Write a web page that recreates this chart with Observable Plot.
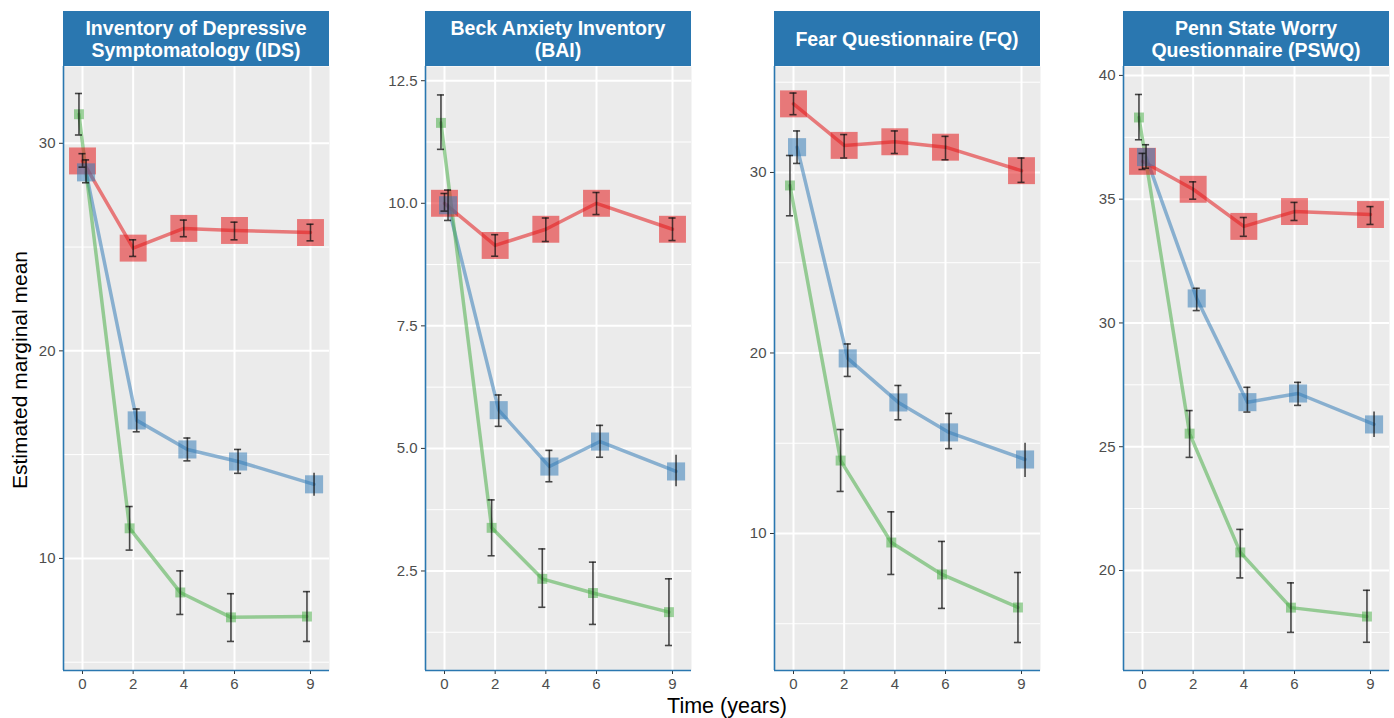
<!DOCTYPE html>
<html><head><meta charset="utf-8">
<script src="https://cdn.jsdelivr.net/npm/d3@7"></script>
<script src="https://cdn.jsdelivr.net/npm/@observablehq/plot@0.6"></script>
<style>
body{margin:0;background:#fff;font-family:"Liberation Sans",Arial,Helvetica,sans-serif;}
#chart{position:relative;width:1394px;height:718px;overflow:hidden;}
.hdr{position:absolute;top:11px;height:55px;width:266px;background:#2A77B0;color:#fff;font-weight:bold;font-size:19.5px;line-height:22px;display:flex;align-items:center;justify-content:center;text-align:center;}
.panel{position:absolute;top:66px;}
.ylab{position:absolute;left:20px;top:370px;transform:translate(-50%,-50%) rotate(-90deg);font-size:21px;white-space:nowrap;color:#000;}
.xlab{position:absolute;left:727px;top:706px;transform:translate(-50%,-50%);font-size:21.5px;white-space:nowrap;color:#000;}
</style></head><body><div id="chart"></div>
<script>
// ---- data ----
const times = [0, 2, 4, 6, 9];
const groups = ["Class 1", "Class 2", "Class 3"]; // red, blue, green
const measures = ["IDS", "BAI", "FQ", "PSWQ"];
const titles = [
  "Inventory of Depressive<br>Symptomatology (IDS)",
  "Beck Anxiety Inventory<br>(BAI)",
  "Fear Questionnaire (FQ)",
  "Penn State Worry<br>Questionnaire (PSWQ)"
];

const IDS_mean = [[29.15, 24.95, 25.9, 25.8, 25.7], [28.6, 16.65, 15.25, 14.67, 13.57], [31.4, 11.45, 8.36, 7.16, 7.2]];
const IDS_lo   = [[28.85, 24.55, 25.5, 25.35, 25.3], [28.1, 16.1, 14.7, 14.1, 13.0], [30.4, 10.4, 7.3, 6.0, 6.0]];
const IDS_hi   = [[29.5, 25.35, 26.3, 26.2, 26.1], [29.2, 17.2, 15.8, 15.25, 14.1], [32.4, 12.5, 9.4, 8.3, 8.4]];

const BAI_mean = [[10.0, 9.14, 9.47, 10.0, 9.47], [9.96, 5.78, 4.63, 5.14, 4.53], [11.64, 3.38, 2.34, 2.05, 1.66]];
const BAI_lo   = [[9.84, 8.92, 9.22, 9.77, 9.24], [9.65, 5.45, 4.32, 4.82, 4.22], [11.1, 2.81, 1.76, 1.41, 0.98]];
const BAI_hi   = [[10.2, 9.36, 9.7, 10.22, 9.7], [10.27, 6.09, 4.96, 5.47, 4.86], [12.21, 3.95, 2.95, 2.68, 2.34]];

const FQ_mean = [[33.8, 31.5, 31.7, 31.4, 30.1], [31.4, 19.7, 17.26, 15.6, 14.1], [29.28, 14.04, 9.5, 7.73, 5.9]];
const FQ_lo   = [[33.2, 30.8, 31.05, 30.7, 29.45], [30.5, 18.7, 16.3, 14.7, 13.1], [27.6, 12.33, 7.73, 5.85, 3.96]];
const FQ_hi   = [[34.4, 32.1, 32.3, 32.0, 30.8], [32.3, 20.5, 18.2, 16.65, 15.0], [30.94, 15.76, 11.2, 9.56, 7.84]];

const PSWQ_mean = [[36.53, 35.4, 33.9, 34.5, 34.38], [36.7, 30.99, 26.8, 27.15, 25.9], [38.3, 25.53, 20.73, 18.5, 18.14]];
const PSWQ_lo   = [[36.2, 35.0, 33.5, 34.14, 33.98], [36.25, 30.5, 26.4, 26.67, 25.37], [37.4, 24.57, 19.7, 17.5, 17.1]];
const PSWQ_hi   = [[36.85, 35.7, 34.26, 34.87, 34.7], [37.2, 31.4, 27.4, 27.6, 26.4], [39.23, 26.46, 21.66, 19.5, 19.2]];

const majorTicks = [[10, 20, 30], [2.5, 5, 7.5, 10, 12.5], [10, 20, 30], [20, 25, 30, 35, 40]];
const minorTicks = [[5, 15, 25], [1.25, 3.75, 6.25, 8.75, 11.25], [5, 15, 25, 35], [17.5, 22.5, 27.5, 32.5, 37.5]];
const tickFormats = [d => d, d => d.toFixed(1), d => d, d => d];

// ---- layout / style ----
const meanSets = [IDS_mean, BAI_mean, FQ_mean, PSWQ_mean];
const loSets = [IDS_lo, BAI_lo, FQ_lo, PSWQ_lo];
const hiSets = [IDS_hi, BAI_hi, FQ_hi, PSWQ_hi];
const yDomains = [[4.6, 33.7], [0.47, 12.79], [2.41, 35.87], [15.96, 40.36]];
const xDomain = [-0.75, 9.75];
const colors = ["#E41A1C", "#377EB8", "#4DAF4A"];
const dodge = [0, 0.14, -0.14];
const radii = [15.2, 10.2, 5.6];
const panelLefts = [63, 425, 774, 1123];
const plotW = 266, plotH = 604, ML = 50, MR = 2, MB = 40;
const axisBlue = "#2A77B0";

const chart = document.getElementById("chart");

measures.forEach((m, i) => {
  const rows = [];
  groups.forEach((g, gi) => {
    times.forEach((t, k) => {
      rows.push({t, g, gi, xo: t + dodge[gi], m: meanSets[i][gi][k], lo: loSets[i][gi][k], hi: hiSets[i][gi][k], r: radii[gi]});
    });
  });
  const caps = rows.filter(d => !(d.gi === 1 && d.t === 9));
  const capW = 0.14;
  const svg = Plot.plot({
    width: ML + plotW + MR,
    height: plotH + MB,
    marginLeft: ML, marginRight: MR, marginTop: 0, marginBottom: MB,
    x: {domain: xDomain},
    y: {domain: yDomains[i]},
    r: {type: "identity"},
    color: {domain: groups, range: colors},
    style: {fontFamily: '"Liberation Sans", Arial, Helvetica, sans-serif', fontSize: "15px", background: "transparent", overflow: "visible"},
    marks: [
      Plot.frame({fill: "#EBEBEB", stroke: null}),
      Plot.gridY(minorTicks[i], {stroke: "#fff", strokeOpacity: 1, strokeWidth: 1}),
      Plot.gridY(majorTicks[i], {stroke: "#fff", strokeOpacity: 1, strokeWidth: 2}),
      Plot.gridX(times, {stroke: "#fff", strokeOpacity: 1, strokeWidth: 2}),
      Plot.line(rows, {x: "xo", y: "m", z: "g", stroke: "g", strokeWidth: 3.5, strokeOpacity: 0.55}),
      Plot.dot(rows, {x: "xo", y: "m", symbol: "square", r: "r", fill: "g", fillOpacity: 0.55, stroke: null}),
      Plot.ruleX(rows, {x: "xo", y1: "lo", y2: "hi", stroke: "#111", strokeOpacity: 0.75, strokeWidth: 1.6}),
      Plot.ruleY(caps, {y: "lo", x1: d => d.xo - capW, x2: d => d.xo + capW, stroke: "#111", strokeOpacity: 0.75, strokeWidth: 1.6}),
      Plot.ruleY(caps, {y: "hi", x1: d => d.xo - capW, x2: d => d.xo + capW, stroke: "#111", strokeOpacity: 0.75, strokeWidth: 1.6}),
      Plot.axisY(majorTicks[i], {tickSize: 4, tickPadding: 4, stroke: "#333", fill: "#4D4D4D", fontSize: 15, label: null, tickFormat: tickFormats[i]}),
      Plot.axisX(times, {tickSize: 4, tickPadding: 4, stroke: "#333", fill: "#4D4D4D", fontSize: 15, label: null}),
      Plot.ruleX([xDomain[0]], {stroke: axisBlue, strokeWidth: 1.6}),
      Plot.ruleY([yDomains[i][0]], {stroke: axisBlue, strokeWidth: 1.6})
    ]
  });
  svg.querySelectorAll("text").forEach(t => {
    t.setAttribute("font-size", "15");
    t.style.setProperty("font-size", "15px", "important");
    t.style.setProperty("font-family", '"Liberation Sans", Arial, sans-serif', "important");
  });
  svg.classList.add("panel");
  svg.style.left = (panelLefts[i] - ML) + "px";
  chart.appendChild(svg);

  const hdr = document.createElement("div");
  hdr.className = "hdr";
  hdr.style.left = panelLefts[i] + "px";
  hdr.innerHTML = titles[i];
  chart.appendChild(hdr);
});

const yl = document.createElement("div");
yl.className = "ylab"; yl.textContent = "Estimated marginal mean";
chart.appendChild(yl);
const xl = document.createElement("div");
xl.className = "xlab"; xl.textContent = "Time (years)";
chart.appendChild(xl);
</script></body></html>
